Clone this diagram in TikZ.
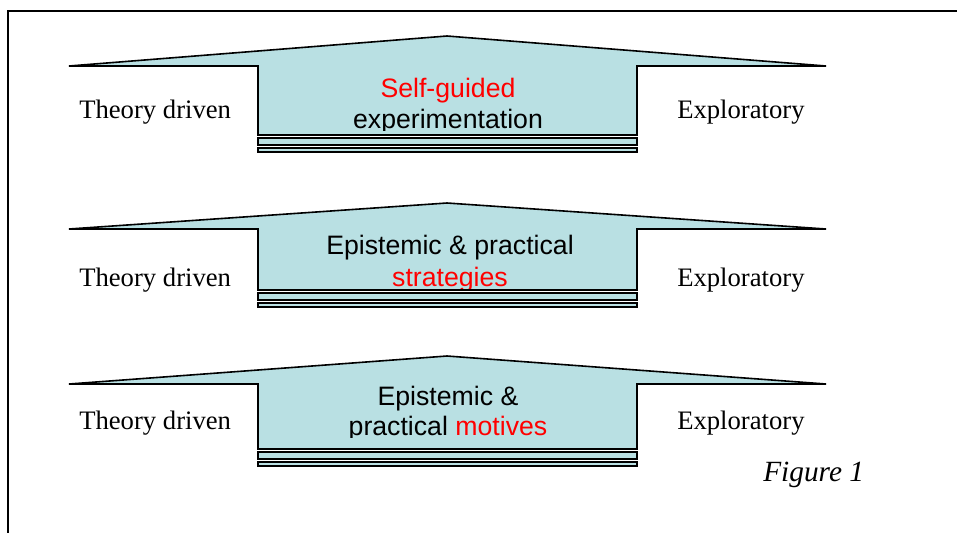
\documentclass[tikz,border=0pt]{standalone}
\usepackage{fontspec}
\setmainfont{Liberation Serif}
\setsansfont{Liberation Sans}
\definecolor{roofblue}{RGB}{185,224,227}

\begin{document}
\begin{tikzpicture}[
			x=0.75pt, y=-0.75pt,
			outline/.style={draw=black, line width=1.2pt, fill=roofblue},
			strip/.style={outline, line width=1.1pt},
			side-label/.style={font=\fontsize{20}{24}\selectfont, anchor=base west, inner sep=0pt},
			inner-label/.style={font=\sffamily\fontsize{20}{24}\selectfont, anchor=base, inner sep=0pt},
			]

			% apex y, shoulder y, bottom y
			\newcommand{\roof}[3]{
				\draw[outline] (69,#2) -- (447,#1) -- (826,#2) -- (637,#2) -- (637,#3) -- (258,#3) -- (258,#2) -- cycle;
				\draw[strip] (258,#3+3) rectangle (637,#3+10);
				\draw[strip] (258,#3+13) rectangle (637,#3+17);
			}

			\useasboundingbox (0,0) rectangle (957,533);
			\draw[line width=1.5pt] (957,11) -- (8,11) -- (8,533);

			\roof{36}{66}{135}
			\roof{203}{229}{290}
			\roof{356}{384}{449}

			\node [side-label] (theory-a) at (79,118) {Theory driven};
			\node [side-label] (explore-a) at (677,118) {Exploratory};
			\node [side-label] (theory-b) at (79,286) {Theory driven};
			\node [side-label] (explore-b) at (677,286) {Exploratory};
			\node [side-label] (theory-c) at (79,429) {Theory driven};
			\node [side-label] (explore-c) at (677,429) {Exploratory};

			\begin{scope}
				\clip (258,66) rectangle (637,130);
				\node [inner-label] (guided-top) at (448,97) {\textcolor{red}{Self-guided}};
				\node [inner-label] (guided-bot) at (448,128) {experimentation};
			\end{scope}

			\begin{scope}
				\clip (258,229) rectangle (637,288);
				\node [inner-label] (strat-top) at (450,254) {Epistemic \& practical};
				\node [inner-label] (strat-bot) at (450,286) {\textcolor{red}{strategies}};
			\end{scope}

			\begin{scope}
				\clip (258,384) rectangle (637,437);
				\node [inner-label] (motive-top) at (448,405) {Epistemic \&};
				\node [inner-label] (motive-bot) at (448,435) {practical \textcolor{red}{motives}};
			\end{scope}

			\node [side-label, font=\itshape\fontsize{22}{26}\selectfont] (fig-label) at (763,481) {Figure 1};

		\end{tikzpicture}
\end{document}
